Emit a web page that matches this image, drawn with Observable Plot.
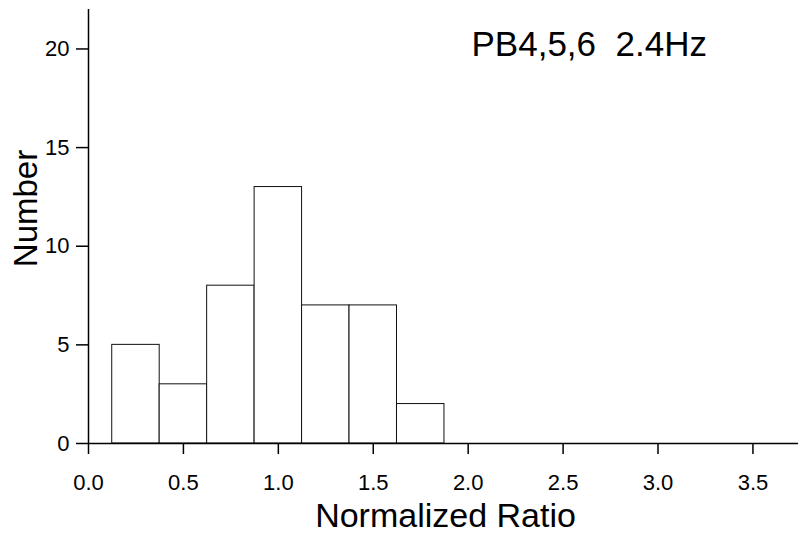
<!DOCTYPE html>
<html>
<head>
<meta charset="utf-8">
<script src="https://cdn.jsdelivr.net/npm/d3@7"></script>
<script src="https://cdn.jsdelivr.net/npm/@observablehq/plot@0.6"></script>
<style>
  html, body { margin: 0; padding: 0; background: #fff; }
  svg { font-family: "Liberation Sans", Arial, Helvetica, sans-serif; display: block; }
</style>
</head>
<body>
<div id="chart"></div>
<script>
const binLo = [0.125, 0.375, 0.625, 0.875, 1.125, 1.375, 1.625];
const binHi = [0.375, 0.625, 0.875, 1.125, 1.375, 1.625, 1.875];
const counts = [5, 3, 8, 13, 7, 7, 2];
const xTicks = [0, 0.5, 1, 1.5, 2, 2.5, 3, 3.5];
const yTicks = [0, 5, 10, 15, 20];
const titleText = "PB4,5,6\u00a0 2.4Hz";
const xLabel = "Normalized Ratio";
const yLabel = "Number";

const bins = counts.map((c, i) => ({lo: binLo[i], hi: binHi[i], n: c}));
const fmtX = d3.format(".1f");
const fmtY = d3.format("d");

const chart = Plot.plot({
  width: 801,
  height: 533,
  marginLeft: 88,
  marginRight: 3,
  marginTop: 9,
  marginBottom: 90,
  style: {fontFamily: '"Liberation Sans", Arial, Helvetica, sans-serif', background: "#fff", color: "#000"},
  x: {domain: [0, 3.74]},
  y: {domain: [0, 22]},
  marks: [
    Plot.rectY(bins, {x1: "lo", x2: "hi", y: "n", fill: "#fff", stroke: "#111", strokeWidth: 1}),
    Plot.ruleY([0], {stroke: "#000", strokeWidth: 1.5}),
    Plot.ruleX([0], {stroke: "#000", strokeWidth: 1.5}),
    Plot.axisX({ticks: xTicks, tickSize: 11, text: null, label: null, stroke: "#000", strokeWidth: 1.5}),
    Plot.axisY({ticks: yTicks, tickSize: 12, text: null, label: null, stroke: "#000", strokeWidth: 1.5}),
    Plot.text(xTicks, {x: d => d, frameAnchor: "bottom", dy: 31, lineAnchor: "top", text: d => fmtX(d), fontSize: 22, fill: "#000"}),
    Plot.text(yTicks, {y: d => d, frameAnchor: "left", dx: -19, textAnchor: "end", lineAnchor: "middle", text: d => fmtY(d), fontSize: 22, fill: "#000"}),
    Plot.text([titleText], {frameAnchor: "top-left", dx: 383, dy: 35, textAnchor: "start", lineAnchor: "middle", fontSize: 35, fill: "#000"}),
    Plot.text([xLabel], {frameAnchor: "bottom", dx: 2, dy: 73, textAnchor: "middle", lineAnchor: "middle", fontSize: 34, fill: "#000"}),
    Plot.text([yLabel], {frameAnchor: "left", rotate: -90, dx: -62, dy: -18, textAnchor: "middle", lineAnchor: "middle", fontSize: 33, fill: "#000"})
  ]
});
document.getElementById("chart").appendChild(chart);
</script>
</body>
</html>
